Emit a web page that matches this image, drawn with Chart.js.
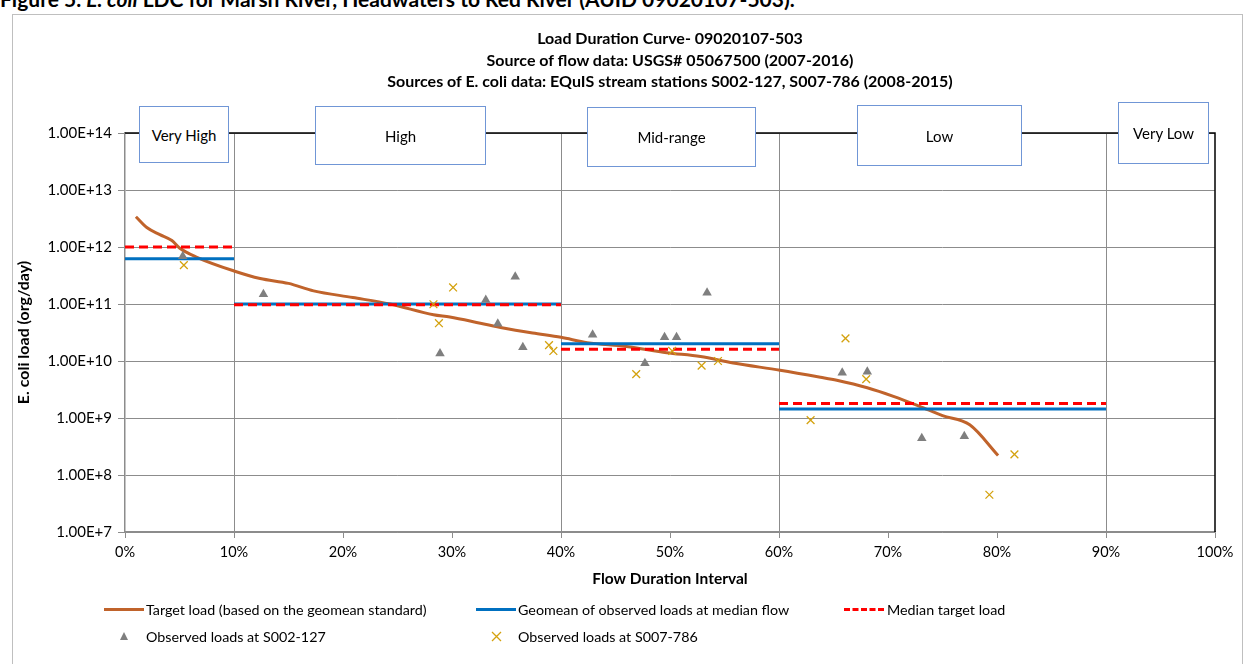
<!DOCTYPE html>
<html lang="en">
<head>
<meta charset="UTF-8">
<title>Load Duration Curve - 09020107-503</title>
<script src="https://cdn.jsdelivr.net/npm/chart.js"></script>
<style>
  body {
    margin: 0;
    width: 1248px;
    height: 664px;
    overflow: hidden;
    background: #fff;
    font-family: Lato, 'Open Sans', sans-serif;
    color: #000;
    position: relative;
  }
  .caption {
    position: absolute;
    left: 0;
    top: -13px;
    font-size: 21px;
    font-weight: bold;
    white-space: nowrap;
    line-height: 24px;
  }
  .frame {
    position: absolute;
    left: 12px;
    top: 14px;
    width: 1229px;
    height: 700px;
    border: 1px solid #bfbfbf;
  }
  #chart {
    position: absolute;
    left: 0;
    top: 0;
  }
  .titles {
    position: absolute;
    left: 320px;
    width: 700px;
    top: 27px;
    text-align: center;
    font-weight: bold;
    font-size: 16px;
    line-height: 21.5px;
  }
  .zone {
    position: absolute;
    box-sizing: border-box;
    background: #fff;
    border: 1px solid #7096d6;
    display: flex;
    align-items: center;
    justify-content: center;
    font-size: 15px;
  }
  .leg {
    position: absolute;
    font-size: 14.3px;
    white-space: nowrap;
    line-height: 16px;
  }
  .sample {
    position: absolute;
  }
</style>
</head>
<body>
  <div class="caption">Figure 5. <i>E. coli</i> LDC for Marsh River, Headwaters to Red River (AUID 09020107-503).</div>
  <div class="frame"></div>
  <canvas id="chart" width="1248" height="664"></canvas>

  <div class="titles">
    Load Duration Curve- 09020107-503<br>
    Source of flow data: USGS# 05067500 (2007-2016)<br>
    Sources of E. coli data: EQuIS stream stations S002-127, S007-786 (2008-2015)
  </div>

  <div class="zone" style="left:139px; top:106px; width:90px; height:57px;">Very High</div>
  <div class="zone" style="left:315px; top:106px; width:171px; height:59px;">High</div>
  <div class="zone" style="left:587px; top:107px; width:169px; height:60px;">Mid-range</div>
  <div class="zone" style="left:857px; top:105px; width:165px; height:61px;">Low</div>
  <div class="zone" style="left:1118px; top:102px; width:91px; height:62px;">Very Low</div>

  <!-- legend -->
  <div class="sample" style="left:104px; top:608px; width:40px; height:3px; background:#c0632b;"></div>
  <div class="leg" style="left:146px; top:602px;">Target load (based on the geomean standard)</div>
  <div class="sample" style="left:476px; top:608px; width:40px; height:3px; background:#0070c0;"></div>
  <div class="leg" style="left:518px; top:602px;">Geomean of observed loads at median flow</div>
  <div class="sample" style="left:844px; top:608px; width:40px; height:0; border-top:3px dashed #ff0000;"></div>
  <div class="leg" style="left:887px; top:602px;">Median target load</div>
  <svg class="sample" style="left:119px; top:631px;" width="10" height="10">
    <polygon points="5,1 9,9 1,9" fill="#7f7f7f"/>
  </svg>
  <div class="leg" style="left:146px; top:629px;">Observed loads at S002-127</div>
  <svg class="sample" style="left:491px; top:631px;" width="11" height="11">
    <path d="M1,1 L10,10 M10,1 L1,10" stroke="#d4a20f" stroke-width="1.3"/>
  </svg>
  <div class="leg" style="left:518px; top:629px;">Observed loads at S007-786</div>

<script>
  // flow duration interval (%) and target load curve (org/day)
  const flowPct = [1.0, 2.0, 3.2, 4.3, 5.0, 6.6, 10.0, 12.4, 15.0, 17.3, 20.9, 24.3, 28.3, 29.8, 32.6, 34.7,
                   37.4, 40.0, 42.4, 46.0, 49.7, 52.8, 55.8, 60.1, 63.8, 65.3, 68.1, 70.5, 72.9, 75.0, 77.5, 80.1];
  const targetLoad = [3.4e12, 2.2e12, 1.65e12, 1.3e12, 9.6e11, 6.6e11, 3.8e11, 2.8e11, 2.3e11, 1.7e11, 1.3e11, 1.0e11,
                      6.5e10, 5.9e10, 4.6e10, 3.8e10, 3.1e10, 2.6e10, 2.1e10, 1.8e10, 1.4e10, 1.2e10, 9.2e9,
                      6.9e9, 5.2e9, 4.6e9, 3.4e9, 2.4e9, 1.6e9, 1.1e9, 7.6e8, 2.2e8];

  // flow zones
  const zoneEdges = [0, 10, 40, 60, 90, 100];
  const geomeanLoad = [6.2e11, 1.0e11, 2.0e10, 1.44e9, null];
  const medianTarget = [1.0e12, 9.7e10, 1.6e10, 1.8e9, null];

  // observed loads
  const s002Pct = [5.3, 12.7, 28.9, 33.1, 34.2, 35.8, 36.5, 42.9, 47.7, 49.5, 50.6, 53.4, 65.8, 68.1, 73.1, 77.0];
  const s002Load = [6.9e11, 1.48e11, 1.36e10, 1.17e11, 4.5e10, 3.0e11, 1.74e10, 2.9e10, 9.1e9, 2.6e10, 2.6e10,
                    1.58e11, 6.2e9, 6.5e9, 4.4e8, 4.8e8];
  const s007Pct = [5.4, 28.3, 28.8, 30.1, 38.9, 39.3, 46.9, 50.2, 52.9, 54.4, 62.9, 66.1, 68.0, 79.3, 81.6];
  const s007Load = [4.8e11, 9.9e10, 4.6e10, 1.95e11, 1.9e10, 1.5e10, 5.9e9, 1.5e10, 8.3e9, 1.0e10, 9.2e8,
                    2.5e10, 4.8e9, 4.5e7, 2.3e8];

  // axis ticks
  const xTicks = [0, 10, 20, 30, 40, 50, 60, 70, 80, 90, 100];
  const xGridAt = [10, 40, 60, 90];
  const yTicks = [1e7, 1e8, 1e9, 1e10, 1e11, 1e12, 1e13, 1e14];

  function zip(xs, ys) {
    return xs.map((x, i) => ({ x: x, y: ys[i] }));
  }

  function zoneSegments(vals) {
    const pts = [];
    vals.forEach((v, i) => {
      if (v == null) return;
      pts.push({ x: zoneEdges[i], y: v }, { x: zoneEdges[i + 1], y: v }, { x: zoneEdges[i + 1], y: null });
    });
    return pts;
  }

  // black top/right border of the plot area
  const plotBorder = {
    id: 'plotBorder',
    beforeDatasetsDraw(chart) {
      const { ctx, chartArea: a } = chart;
      ctx.save();
      ctx.strokeStyle = '#000';
      ctx.lineWidth = 1.5;
      ctx.beginPath();
      ctx.moveTo(a.left, a.top);
      ctx.lineTo(a.right, a.top);
      ctx.lineTo(a.right, a.bottom);
      ctx.stroke();
      ctx.restore();
    }
  };

  Chart.defaults.font.family = "Lato, 'Open Sans', sans-serif";
  Chart.defaults.color = '#000';

  new Chart(document.getElementById('chart'), {
    type: 'scatter',
    data: {
      datasets: [
        {
          label: 'Target load (based on the geomean standard)',
          data: zip(flowPct, targetLoad),
          showLine: true,
          borderColor: '#c0632b',
          borderWidth: 3,
          pointRadius: 0,
          cubicInterpolationMode: 'monotone',
          order: 5
        },
        {
          label: 'Geomean of observed loads at median flow',
          data: zoneSegments(geomeanLoad),
          showLine: true,
          borderColor: '#0070c0',
          borderWidth: 3,
          pointRadius: 0,
          order: 4
        },
        {
          label: 'Median target load',
          data: zoneSegments(medianTarget),
          showLine: true,
          borderColor: '#ff0000',
          borderWidth: 3,
          borderDash: [9, 5],
          pointRadius: 0,
          order: 3
        },
        {
          label: 'Observed loads at S002-127',
          data: zip(s002Pct, s002Load),
          pointStyle: 'triangle',
          pointRadius: 5.5,
          backgroundColor: '#7f7f7f',
          borderColor: '#7f7f7f',
          borderWidth: 0,
          order: 2
        },
        {
          label: 'Observed loads at S007-786',
          data: zip(s007Pct, s007Load),
          pointStyle: 'crossRot',
          pointRadius: 5.5,
          borderColor: '#d4a20f',
          borderWidth: 1.3,
          order: 1
        }
      ]
    },
    options: {
      responsive: false,
      animation: false,
      devicePixelRatio: 1,
      layout: { padding: { top: 133, right: 33, bottom: 64, left: 0 } },
      plugins: { legend: { display: false }, tooltip: { enabled: false } },
      scales: {
        x: {
          type: 'linear',
          min: 0,
          max: 100,
          afterFit: s => { s.height = 68; },
          afterBuildTicks: s => { s.ticks = xTicks.map(v => ({ value: v })); },
          ticks: {
            padding: 6,
            font: { size: 14.5 },
            callback: v => v + '%'
          },
          grid: {
            color: c => (c.tick && xGridAt.includes(c.tick.value)) ? '#8c8c8c' : 'rgba(0,0,0,0)',
            tickColor: '#8c8c8c',
            tickLength: 6
          },
          border: { color: '#8c8c8c', width: 1.5 },
          title: {
            display: true,
            text: 'Flow Duration Interval',
            font: { size: 15.5, weight: 'bold' },
            padding: { top: 0, bottom: 12 }
          }
        },
        y: {
          type: 'logarithmic',
          min: 1e7,
          max: 1e14,
          afterFit: s => { s.width = 125; },
          afterBuildTicks: s => { s.ticks = yTicks.map(v => ({ value: v })); },
          ticks: {
            padding: 6,
            font: { size: 15 },
            callback: v => Number(v).toExponential(2).toUpperCase()
          },
          grid: {
            color: '#8c8c8c',
            tickColor: '#8c8c8c',
            tickLength: 7
          },
          border: { color: '#8c8c8c', width: 1.5 },
          title: {
            display: true,
            text: 'E. coli load (org/day)',
            font: { size: 16, weight: 'bold' },
            padding: { top: 14, bottom: 0 }
          }
        }
      }
    },
    plugins: [plotBorder]
  });
</script>
</body>
</html>
